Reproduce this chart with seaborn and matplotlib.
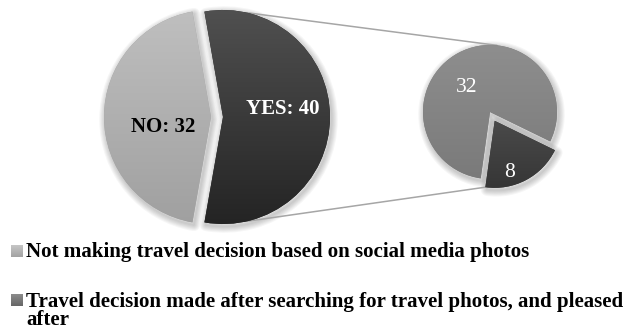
import numpy as np
import matplotlib
matplotlib.use("Agg")
import matplotlib.pyplot as plt
import seaborn as sns
from matplotlib.colors import LinearSegmentedColormap
from matplotlib.patches import Wedge, Rectangle

# ---------------- data ----------------
main_labels = ["NO", "YES"]
main_values = [32, 40]
sub_labels = ["8", "32"]
sub_values = [8, 32]
legend_labels = [
    "Not making travel decision based on social media photos",
    "Travel decision made after searching for travel photos, and pleased\nafter",
]

# ---------------- style ----------------
sns.set_theme(style="white")
plt.rcParams["font.family"] = ["Liberation Serif", "DejaVu Serif"]

main_grad = [("#bfbfbf", "#a0a0a0"), ("#505050", "#242424")]
sub_grad = [("#5e5e5e", "#363636"), ("#8e8e8e", "#7a7a7a")]
legend_grad = [("#c6c6c6", "#a2a2a2"), ("#8c8c8c", "#666666")]

W, H = 630, 330
fig = plt.figure(figsize=(W / 100, H / 100), dpi=100)
ax = fig.add_axes([0, 0, 1, 1])


def grad_fill(patch, extent, colors, z):
    cmap = LinearSegmentedColormap.from_list("g", list(colors))
    arr = np.linspace(0, 1, 256).reshape(-1, 1)
    im = ax.imshow(arr, cmap=cmap, extent=extent, origin="upper",
                   aspect="auto", interpolation="bilinear", zorder=z)
    im.set_clip_path(patch)
    return im


def shadow(w, dx=1.5, dy=-2.5):
    for k in range(6):
        s = Wedge((w.center[0] + dx, w.center[1] + dy), w.r, w.theta1, w.theta2,
                  facecolor="none", edgecolor="black", lw=1.5 * (k + 1),
                  alpha=0.035, zorder=0.5, joinstyle="round")
        ax.add_patch(s)


# main pie
main_r = 107
main_center = (211, H - 117)
mw, _ = ax.pie(main_values, startangle=100, counterclock=True,
               center=main_center, radius=main_r, explode=[0, 12],
               colors=[g[1] for g in main_grad],
               wedgeprops=dict(linewidth=0), frame=True)

# sub pie
sub_r = 67
sub_center = (490, H - 112)
sw, _ = ax.pie(sub_values, startangle=-98, counterclock=True,
               center=sub_center, radius=sub_r, explode=[10, 0],
               colors=[g[1] for g in sub_grad],
               wedgeprops=dict(linewidth=0), frame=True)

for wedges, grads in ((mw, main_grad), (sw, sub_grad)):
    for w, g in zip(wedges, grads):
        w.set_zorder(1)
        shadow(w)
        cx, cy = w.center
        grad_fill(w, [cx - w.r, cx + w.r, cy - w.r, cy + w.r], g, 2)


def on_circle(w, ang):
    a = np.deg2rad(ang)
    return (w.center[0] + w.r * np.cos(a), w.center[1] + w.r * np.sin(a))


# connector lines
yes_w = mw[1]
p1 = on_circle(yes_w, 77)
p2 = on_circle(sw[1], 84)
p3 = on_circle(yes_w, -77)
p4 = on_circle(sw[0], sw[0].theta1)
ax.plot([p1[0], p2[0]], [p1[1], p2[1]], color="#a6a6a6", lw=1.1, zorder=0.8)
ax.plot([p3[0], p4[0]], [p3[1], p4[1]], color="#a6a6a6", lw=1.1, zorder=0.8)


def label_at(w, frac, ang, text, **kw):
    x, y = on_circle(w, ang)
    cx, cy = w.center
    ax.text(cx + frac * (x - cx), cy + frac * (y - cy), text,
            ha="center", va="center", zorder=5, **kw)


label_at(mw[0], 0.46, 192, f"{main_labels[0]}: {main_values[0]}",
         color="black", fontsize=15, fontweight="bold")
label_at(mw[1], 0.56, 8, f"{main_labels[1]}: {main_values[1]}",
         color="white", fontsize=15, fontweight="bold")
label_at(sw[1], 0.5, 134, f"{sub_values[1]}", color="white", fontsize=15.5)
label_at(sw[0], 0.8, -74, f"{sub_values[0]}", color="white", fontsize=15.5)

# legend
line_step = 19
leg_baselines = [H - 257, H - 306]
for lbl, base, g in zip(legend_labels, leg_baselines, legend_grad):
    sq = Rectangle((11, base), 12, 12, facecolor=g[1], lw=0, zorder=3)
    ax.add_patch(sq)
    grad_fill(sq, [11, 23, base, base + 12], g, 4)
    n_extra = lbl.count("\n")
    ax.text(26, base - n_extra * line_step, lbl, ha="left", va="baseline",
            linespacing=0.9, fontsize=15.1, fontweight="bold",
            color="black", zorder=5)

ax.set_xlim(0, W)
ax.set_ylim(0, H)
ax.set_aspect("equal")
ax.axis("off")
fig.savefig("out.png", dpi=100)
